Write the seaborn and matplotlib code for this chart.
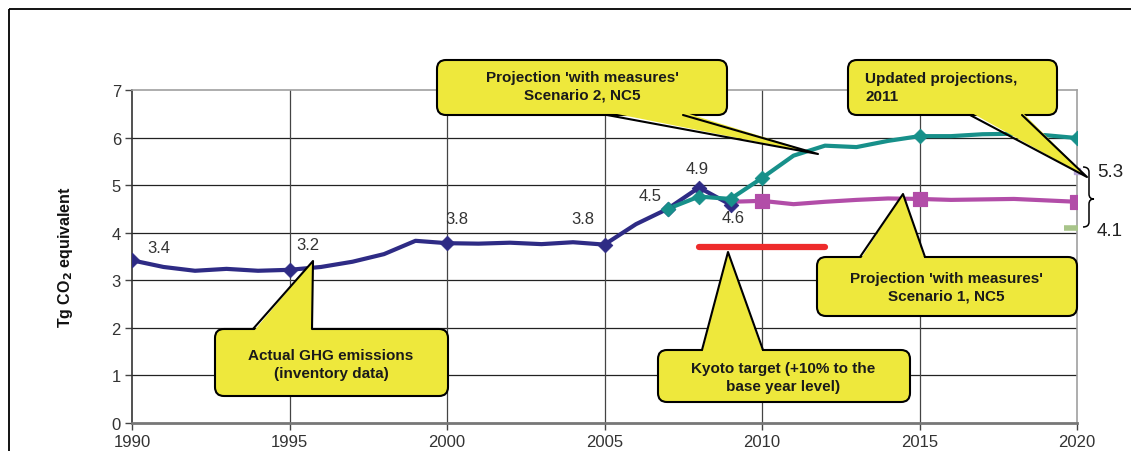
import numpy as np
import pandas as pd
import seaborn as sns
import matplotlib.pyplot as plt
from matplotlib.patches import FancyBboxPatch, Polygon, Rectangle, PathPatch
from matplotlib.path import Path
from matplotlib.transforms import Affine2D

# ---- data ----
years_actual = list(range(1990, 2010))
actual = [3.42, 3.28, 3.20, 3.24, 3.20, 3.22, 3.28, 3.39, 3.55, 3.83,
          3.78, 3.77, 3.79, 3.76, 3.80, 3.75, 4.18, 4.50, 4.95, 4.59]
actual_marker_years = [1990, 1995, 2000, 2005, 2007, 2008, 2009]

years_s2 = list(range(2007, 2021))
scenario2 = [4.50, 4.76, 4.71, 5.15, 5.62, 5.83, 5.80, 5.93, 6.03, 6.03,
             6.07, 6.08, 6.05, 5.99]
s2_marker_years = [2007, 2008, 2009, 2010, 2015, 2020]

years_s1 = list(range(2009, 2021))
scenario1 = [4.65, 4.67, 4.60, 4.65, 4.69, 4.72, 4.71, 4.69, 4.70, 4.71,
             4.68, 4.65]
s1_marker_years = [2010, 2015, 2020]

kyoto_years = [2008, 2012]
kyoto = [3.71, 3.71]

upd_year = 2020
upd_high = 5.3
upd_low = 4.1

label_years = [1990, 1995, 2000, 2005, 2007, 2008, 2009]
label_text = ["3.4", "3.2", "3.8", "3.8", "4.5", "4.9", "4.6"]

df_a = pd.DataFrame({"year": years_actual, "value": actual})
df_s2 = pd.DataFrame({"year": years_s2, "value": scenario2})
df_s1 = pd.DataFrame({"year": years_s1, "value": scenario1})
df_k = pd.DataFrame({"year": kyoto_years, "value": kyoto})

sns.set_theme(style="white")
plt.rcParams['font.family'] = ['Liberation Sans', 'DejaVu Sans']

W, H = 1131, 452
fig = plt.figure(figsize=(W / 100, H / 100), dpi=100)
ax = fig.add_axes([132 / W, 1 - 424 / H, (1077 - 132) / W, (424 - 91) / H])
pix = Affine2D().scale(1 / W, -1 / H).translate(0, 1) + fig.transFigure

navy = "#2E2B85"
teal = "#17908A"
magenta = "#B24DA8"
red = "#EE2B2B"
yellow = "#EEE83C"

# lines
sns.lineplot(data=df_a, x="year", y="value", color=navy, lw=3, ax=ax, zorder=4)
sns.lineplot(data=df_s1, x="year", y="value", color=magenta, lw=3, ax=ax, zorder=3)
sns.lineplot(data=df_s2, x="year", y="value", color=teal, lw=3, ax=ax, zorder=5)
sns.lineplot(data=df_k, x="year", y="value", color=red, lw=4.5, ax=ax, zorder=3)

sns.scatterplot(data=df_a[df_a.year.isin(actual_marker_years)], x="year", y="value",
                marker="D", s=55, color=navy, edgecolor=navy, ax=ax, zorder=6)
sns.scatterplot(data=df_s2[df_s2.year.isin(s2_marker_years)], x="year", y="value",
                marker="D", s=55, color=teal, edgecolor=teal, ax=ax, zorder=7)
sns.scatterplot(data=df_s1[df_s1.year.isin(s1_marker_years)], x="year", y="value",
                marker="s", s=110, color=magenta, edgecolor=magenta, ax=ax, zorder=6)
ax.plot([upd_year], [upd_high], marker="s", ms=5, color="#B9A8D8", clip_on=False, zorder=6)
ax.plot([upd_year - 0.2], [upd_low], marker="_", ms=10, mew=4, color="#A8C48A", clip_on=False, zorder=6)

# data labels
offsets = [(27, -13), (18, -25), (10, -25), (-22, -26), (-17, -13), (-2, -19), (3, 13)]
for yr, txt, (dx, dy) in zip(label_years, label_text, offsets):
    val = actual[years_actual.index(yr)]
    ax.annotate(txt, (yr, val), xytext=(dx * 0.72, -dy * 0.72), textcoords="offset points",
                ha="center", va="center", fontsize=12, color="#333333", zorder=8)

# axes look
ax.set_xlim(1990, 2020)
ax.set_ylim(0, 7)
ax.set_xticks(range(1990, 2021, 5))
ax.set_yticks(range(0, 8))
ax.set_xlabel("")
ax.set_ylabel("Tg CO$_\\mathbf{2}$ equivalent", fontsize=11.5, fontweight="bold",
              color="#111111", labelpad=26)
ax.tick_params(axis="both", labelsize=12, colors="#333333", length=5, width=1,
               direction="out", bottom=True, left=True, pad=3)
ax.tick_params(axis="both", color="#444444")
for y in range(1, 7):
    ax.axhline(y, color="#222222", lw=0.9, zorder=1)
for x in range(1995, 2020, 5):
    ax.axvline(x, color="#444444", lw=0.9, zorder=1)
for side in ["top", "right"]:
    ax.spines[side].set_color("#A0A0A0")
    ax.spines[side].set_linewidth(1.2)
ax.spines["left"].set_color("#333333")
ax.spines["left"].set_linewidth(1.2)
ax.spines["bottom"].set_color("#777777")
ax.spines["bottom"].set_linewidth(2)

# outer frame
fig.patches.append(Rectangle((9, 10), 1140, 460, fill=False, ec="black", lw=1.3,
                             transform=pix, zorder=0))


def callout(box, base, tip, text, tx, ty, ha="center"):
    x0, y0, x1, y1 = box
    fig.patches.append(FancyBboxPatch((x0, y0), x1 - x0, y1 - y0,
                                      boxstyle="round,pad=0,rounding_size=9",
                                      fc=yellow, ec="black", lw=1.5, transform=pix, zorder=10))
    (bx0, by0), (bx1, by1) = base
    inward = 3 if by0 <= y0 + 1 else -3
    fig.patches.append(Polygon([(bx0, by0 + inward), (bx1, by1 + inward), tip], closed=True,
                               fc=yellow, ec="none", transform=pix, zorder=11))
    fig.lines.append(plt.Line2D([bx0, tip[0], bx1], [by0, tip[1], by1], color="black",
                                lw=1.5, transform=pix, zorder=12))
    fig.text(tx / W, 1 - ty / H, text, ha=ha, va="center", fontsize=11, fontweight="bold",
             color="#1a1a1a", linespacing=1.3, zorder=13)


callout((437, 61, 727, 116), ((607, 116), (683, 116)), (818, 155),
        "Projection 'with measures'\nScenario 2, NC5", 582, 87)
callout((848, 61, 1057, 116), ((970, 116), (1022, 116)), (1087, 178),
        "Updated projections,\n2011", 865, 88, ha="left")
callout((215, 330, 448, 397), ((253, 330), (312, 330)), (313, 262),
        "Actual GHG emissions\n(inventory data)", 331, 365)
callout((658, 351, 910, 403), ((702, 351), (763, 351)), (728, 253),
        "Kyoto target (+10% to the\nbase year level)", 783, 378)
callout((817, 258, 1077, 317), ((860, 258), (925, 258)), (903, 195),
        "Projection 'with measures'\nScenario 1, NC5", 946, 288)

# brace for updated projection range
verts = [(1083, 168), (1089, 168), (1089, 173), (1089, 195), (1089, 200), (1094, 200),
         (1089, 200), (1089, 205), (1089, 223), (1089, 228), (1083, 228)]
codes = [Path.MOVETO, Path.CURVE3, Path.CURVE3, Path.LINETO, Path.CURVE3, Path.CURVE3,
         Path.CURVE3, Path.CURVE3, Path.LINETO, Path.CURVE3, Path.CURVE3]
fig.patches.append(PathPatch(Path(verts, codes), fill=False, ec="black", lw=1.1,
                             transform=pix, zorder=9))
fig.text(1097 / W, 1 - 173 / H, f"{upd_high:.1f}", ha="left", va="center", fontsize=13.5,
         color="#222222")
fig.text(1097 / W, 1 - 232 / H, f"{upd_low:.1f}", ha="left", va="center", fontsize=13.5,
         color="#222222")

fig.savefig("out.png", dpi=100)
